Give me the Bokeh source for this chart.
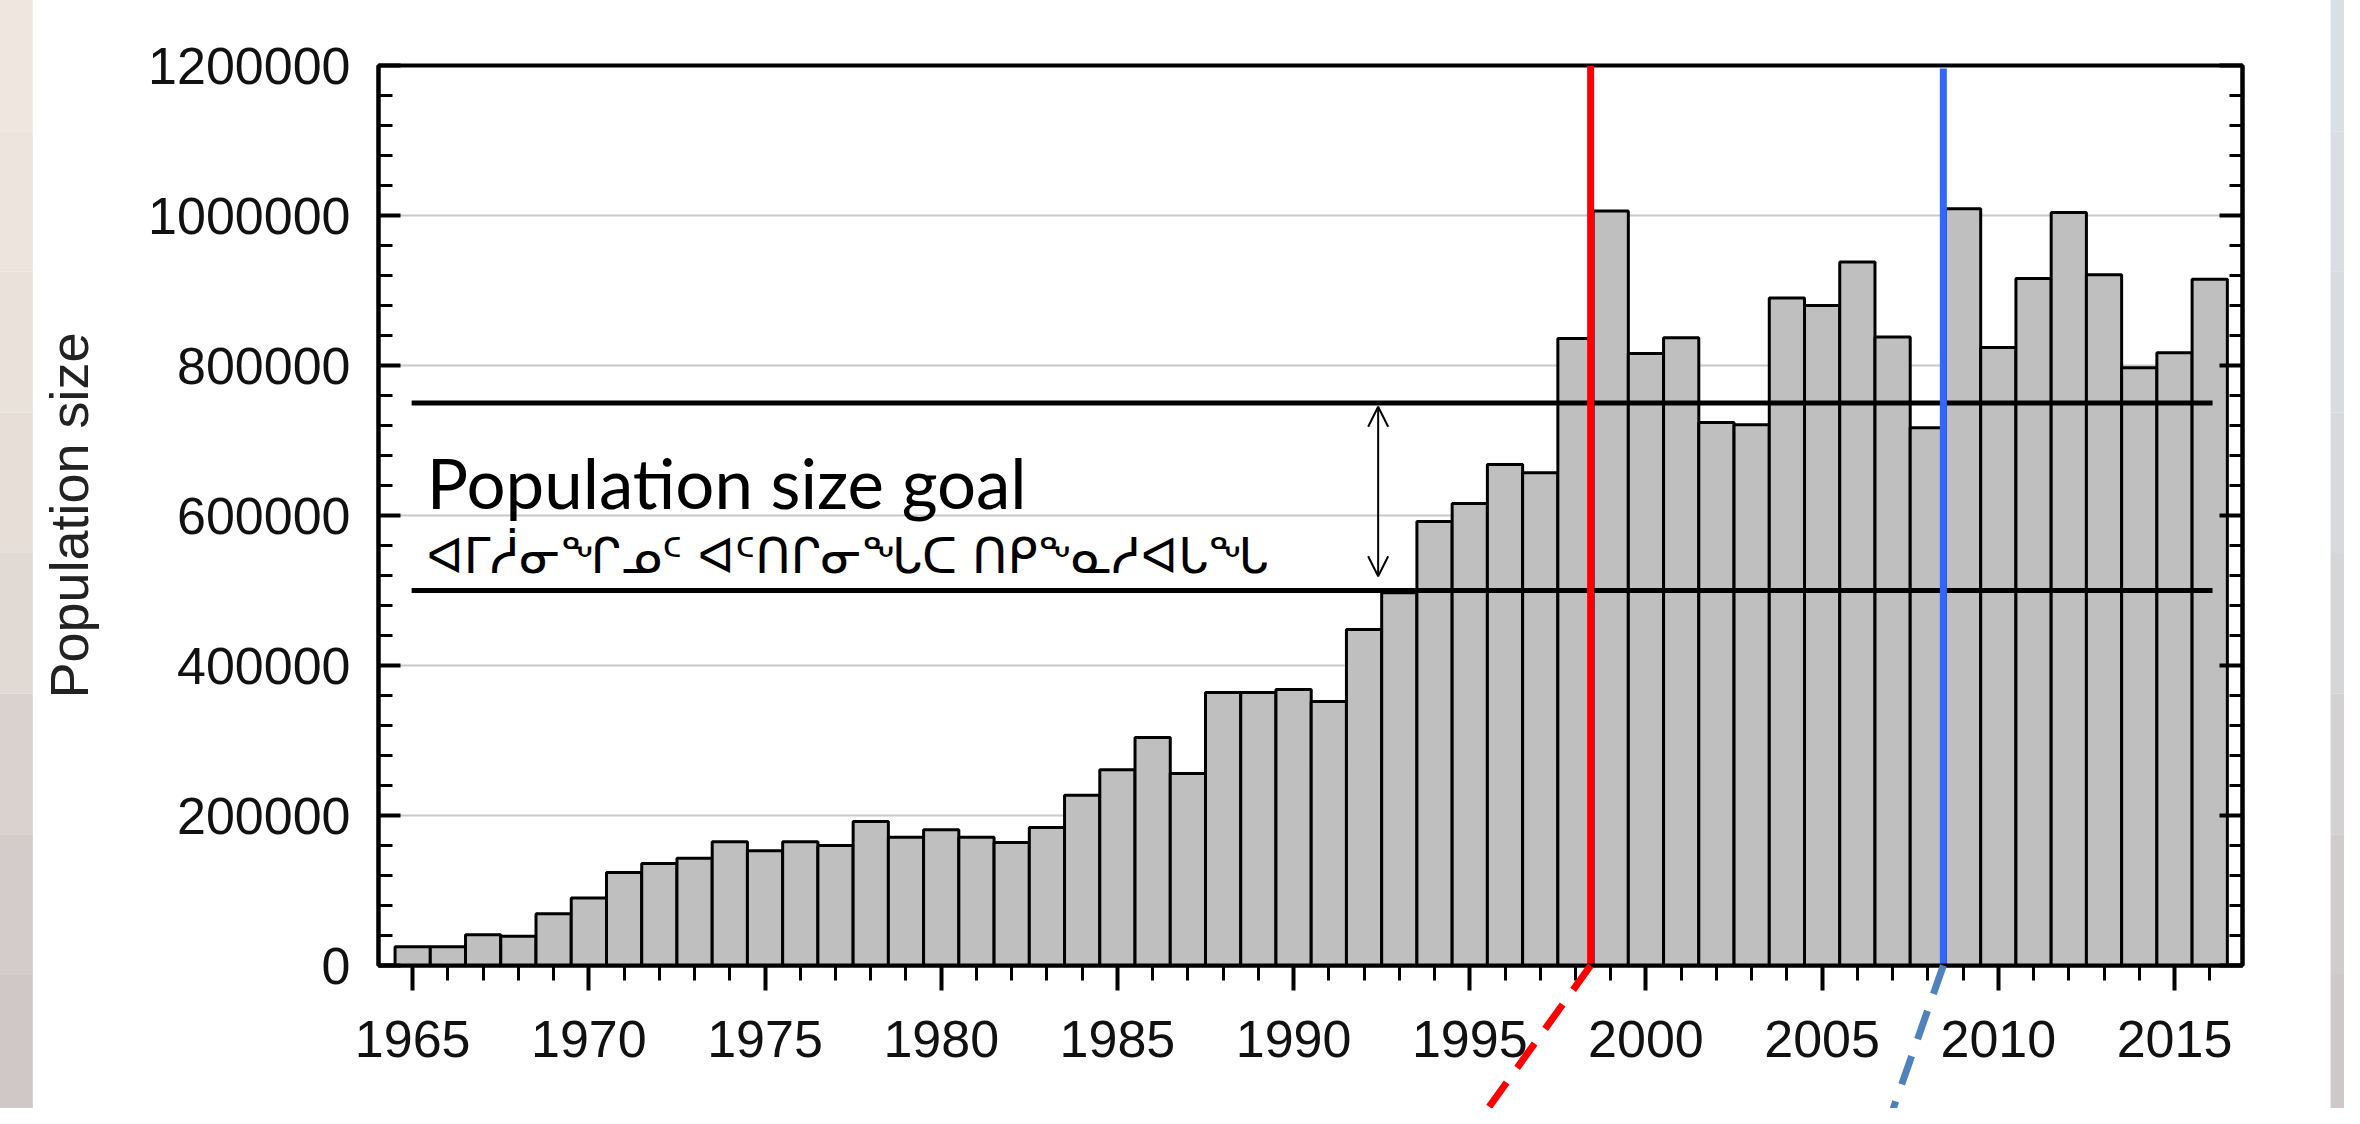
from bokeh.plotting import figure
from bokeh.models import (SingleIntervalTicker, LinearAxis, BasicTickFormatter,
                          Arrow, OpenHead, Label, ColumnDataSource)
from bokeh.embed import file_html
from bokeh.resources import INLINE

# ---- data ----
years = list(range(1965, 2017))
population = [
    25000, 25000, 41000, 39000, 69000, 90000, 124000, 136000, 143000, 165000,
    153000, 165000, 160000, 192000, 171000, 181000, 171000, 164000, 184000, 227000,
    261000, 304000, 256000, 364000, 364000, 368000, 352000, 448000, 497000, 592000,
    616000, 668000, 657000, 836000, 1006000, 816000, 837000, 724000, 721000, 890000,
    880000, 938000, 838000, 717000, 1009000, 824000, 916000, 1004000, 921000, 797000,
    817000, 915000,
]
goal_levels = [750000, 500000]
goal_span = [1964.97, 2016.08]
goal_arrow = [745000, 519000]
goal_arrow_year = 1992.4
red_year = 1998.43
blue_year = 2008.44
red_dash_end = [1995.19, -212000]
blue_dash_end = [2006.86, -212000]
goal_text = "Population size goal"
goal_text_iu = "ᐊᒥᓲᓂᖏᓄᑦ ᐊᑦᑎᒋᓂᖓᑕ ᑎᑭᖕᓇᓱᐊᒐᖓ"
y_label = "Population size"

src = ColumnDataSource(dict(year=years, pop=population))

p = figure(width=2344, height=1108, x_range=(1964.03, 2016.93), y_range=(0, 1200000),
           output_backend="svg", toolbar_location=None,
           min_border_left=378, min_border_right=102, min_border_top=65, min_border_bottom=143,
           background_fill_color="white", border_fill_color="white")

p.outline_line_color = "black"
p.outline_line_width = 4

# x axis
xa = p.xaxis[0]
xa.ticker = SingleIntervalTicker(interval=5, num_minor_ticks=5)
xa.axis_line_width = 4
xa.major_tick_line_width = 4
xa.minor_tick_line_width = 3
xa.major_tick_in = 0
xa.major_tick_out = 25
xa.minor_tick_in = 0
xa.minor_tick_out = 15
xa.major_label_text_font = "Liberation Sans"
xa.major_label_text_font_size = "52px"
xa.major_label_text_color = "#111111"
xa.major_label_standoff = 30

# y axis (left)
ya = p.yaxis[0]
ya.ticker = SingleIntervalTicker(interval=200000, num_minor_ticks=5)
ya.formatter = BasicTickFormatter(use_scientific=False)
ya.axis_line_width = 4
ya.major_tick_line_width = 4
ya.minor_tick_line_width = 3
ya.major_tick_in = 22
ya.major_tick_out = 0
ya.minor_tick_in = 14
ya.minor_tick_out = 0
ya.major_label_text_font = "Liberation Sans"
ya.major_label_text_font_size = "52px"
ya.major_label_text_color = "#111111"
ya.major_label_standoff = 28
ya.axis_label = y_label
ya.axis_label_text_font = "Liberation Sans"
ya.axis_label_text_font_size = "54px"
ya.axis_label_text_font_style = "normal"
ya.axis_label_text_color = "#222222"
ya.axis_label_standoff = 46

# right axis: ticks only
ra = LinearAxis(ticker=SingleIntervalTicker(interval=200000, num_minor_ticks=5),
                axis_line_width=4, major_tick_line_width=4, minor_tick_line_width=3,
                major_tick_in=23, major_tick_out=0, minor_tick_in=13, minor_tick_out=0,
                major_label_overrides={v: "" for v in range(0, 1200001, 200000)},
                major_label_text_font_size="1px")
p.add_layout(ra, "right")

p.xgrid.visible = False
p.ygrid.grid_line_color = "#c8c8c8"
p.ygrid.grid_line_width = 2

# bars
p.vbar(x="year", top="pop", width=1, bottom=0, source=src,
       fill_color="#bfbfbf", line_color="black", line_width=3)

# goal lines
p.segment(x0=[goal_span[0]] * len(goal_levels), y0=goal_levels,
          x1=[goal_span[1]] * len(goal_levels), y1=goal_levels,
          line_color="black", line_width=5)

# vertical markers
p.segment(x0=[red_year], y0=[0], x1=[red_year], y1=[1200000], line_color="#ff0000", line_width=7)
p.segment(x0=[blue_year], y0=[0], x1=[blue_year], y1=[1196000], line_color="#3366ff", line_width=7)

# double arrow
p.add_layout(Arrow(start=OpenHead(size=20, line_width=2, line_color="black"),
                   end=OpenHead(size=20, line_width=2, line_color="black"),
                   x_start=goal_arrow_year, y_start=goal_arrow[0],
                   x_end=goal_arrow_year, y_end=goal_arrow[1],
                   line_width=2, line_color="black"))

# dashed connectors below the axis (overlay level so they extend past the frame)
p.segment(x0=[red_year], y0=[0], x1=[red_dash_end[0]], y1=[red_dash_end[1]],
          line_color="#ff0000", line_width=7, line_dash="30 18", level="overlay")
p.segment(x0=[blue_year], y0=[0], x1=[blue_dash_end[0]], y1=[blue_dash_end[1]],
          line_color="#4f81bd", line_width=7, line_dash="30 18", level="overlay")

# slide edges (decoration, outside the frame): simple vertical colour bands
left_band_colors = ["#efe7df", "#ede5dd", "#eae2da", "#e6ded7", "#e0d9d4", "#d9d2cf", "#d3cccb", "#cfc8c7"]
right_band_colors = ["#d8dfe5", "#d8dee4", "#d7dce1", "#d6dadd", "#d5d6d8", "#d3d1d2", "#d1cccc", "#cfc8c8"]
n_bands = len(left_band_colors)
band_top = 1300000.0
band_bottom = -200000.0
band_h = (band_top - band_bottom) / n_bands
band_tops = [band_top - i * band_h for i in range(n_bands)]
band_bottoms = [t - band_h for t in band_tops]
p.quad(left=[1953.0] * n_bands, right=[1954.22] * n_bands, bottom=band_bottoms, top=band_tops,
       fill_color=left_band_colors, line_color=None, level="overlay")
p.quad(left=[2019.43] * n_bands, right=[2021.0] * n_bands, bottom=band_bottoms, top=band_tops,
       fill_color=right_band_colors, line_color=None, level="overlay")

# texts
p.add_layout(Label(x=1965.4, y=644000, text=goal_text, text_font="Lato",
                   text_font_size="69px", text_color="black", text_baseline="alphabetic"))
p.add_layout(Label(x=1965.4, y=546000, text=goal_text_iu, text_font="DejaVu Sans",
                   text_font_size="48px", text_color="black", text_baseline="alphabetic"))

open("out.html", "w").write(file_html(p, INLINE))
